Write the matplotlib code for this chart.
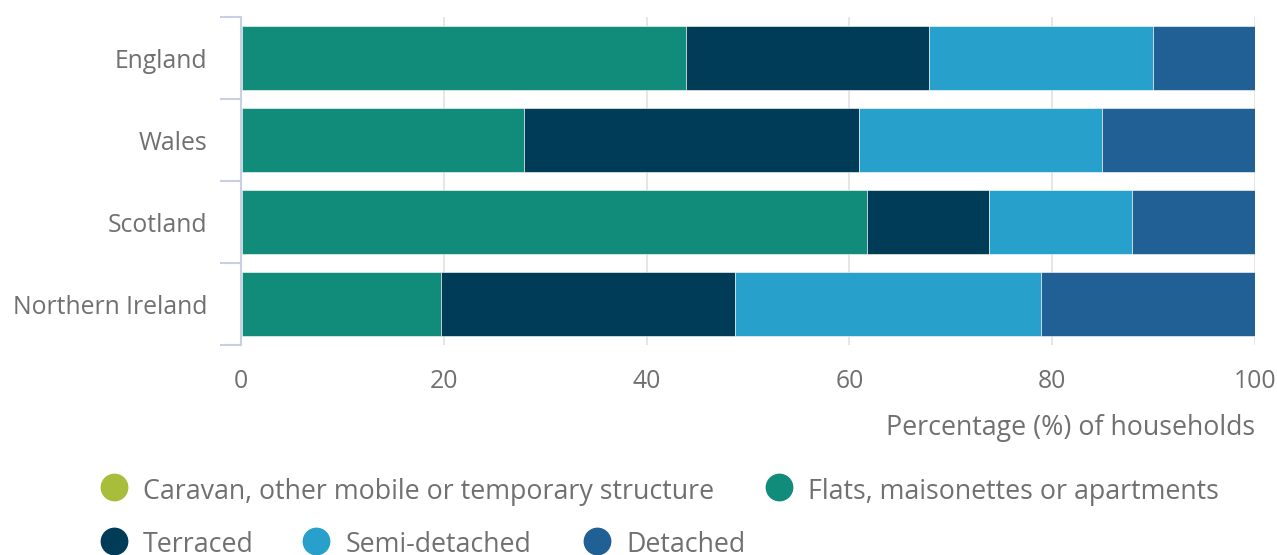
import matplotlib.pyplot as plt
from matplotlib.lines import Line2D

countries = ["England", "Wales", "Scotland", "Northern Ireland"]
series_names = [
    "Caravan, other mobile or temporary structure",
    "Flats, maisonettes or apartments",
    "Terraced",
    "Semi-detached",
    "Detached",
]
caravan = [0.05, 0.05, 0.05, 0.05]
flats = [43.8, 27.9, 61.7, 19.7]
terraced = [24.0, 33.0, 12.0, 29.0]
semi = [22.1, 24.0, 14.1, 30.1]
detached = [10.05, 15.05, 12.15, 21.15]
colors = ["#A8BD3A", "#118C7B", "#003C57", "#27A0CC", "#206095"]

text_color = "#707070"
axis_color = "#C8D0E4"

plt.rcParams["font.family"] = ["Open Sans", "DejaVu Sans"]

fig = plt.figure(figsize=(12.77, 5.55), dpi=100)
ax = fig.add_axes([241 / 1277, 1 - 345 / 555, 1014 / 1277, 328 / 555])

rows = list(range(len(countries)))
left = [0.0] * len(countries)
for name, vals, col in zip(series_names, [caravan, flats, terraced, semi, detached], colors):
    ax.barh(rows, vals, left=left, height=0.79, color=col, edgecolor="#ffffff",
            linewidth=0.4, label=name, zorder=2)
    left = [a + b for a, b in zip(left, vals)]

ax.set_xlim(0, 100)
ax.set_ylim(len(countries) - 0.5, -0.5)
ax.set_xticks([0, 20, 40, 60, 80, 100])
ax.set_yticks(rows)
ax.set_yticklabels(countries)
ax.tick_params(axis="y", length=0, pad=24, labelsize=17.8, labelcolor=text_color)
ax.tick_params(axis="x", length=0, pad=17, labelsize=17.8, labelcolor=text_color)
ax.set_yticks([-0.5, 0.5, 1.5, 2.5, 3.5], minor=True)
ax.tick_params(axis="y", which="minor", length=15, width=1.5, color=axis_color)

ax.grid(axis="x", color="#E2E2E2", linewidth=1.2, zorder=0)
ax.set_axisbelow(True)
for s in ["top", "right", "bottom"]:
    ax.spines[s].set_visible(False)
ax.spines["left"].set_color(axis_color)
ax.spines["left"].set_linewidth(1.5)

fig.text(1255 / 1277, 1 - 428 / 555, "Percentage (%) of households", ha="right",
         va="center", fontsize=19.3, color=text_color)

# legend, two rows of round markers
def legend_item(x, y, baseline, col, label):
    fig.add_artist(Line2D([x / 1277], [1 - y / 555], marker="o", markersize=19,
                          color=col, linestyle="none", transform=fig.transFigure))
    fig.text((x + 29.5) / 1277, 1 - baseline / 555, label, ha="left", va="baseline",
             fontsize=19.3, color=text_color)

legend_item(113.5, 487, 499, colors[0], series_names[0])
legend_item(779, 487, 499, colors[1], series_names[1])
legend_item(113.5, 540.5, 552, colors[2], series_names[2])
legend_item(316, 540.5, 552, colors[3], series_names[3])
legend_item(597, 540.5, 552, colors[4], series_names[4])

fig.savefig("out.png", dpi=100)
